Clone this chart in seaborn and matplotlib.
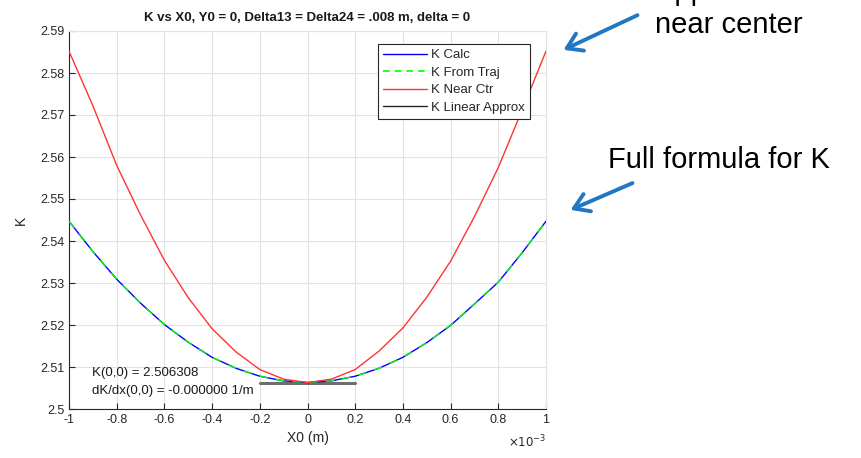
import numpy as np
import pandas as pd
import matplotlib
matplotlib.use("Agg")
import matplotlib.pyplot as plt
import seaborn as sns
from matplotlib.lines import Line2D
from matplotlib.ticker import FuncFormatter, MultipleLocator

# ---- data (x in units of 1e-3 m) ----
x0 = [-1.0, -0.9, -0.8, -0.7, -0.6, -0.5, -0.4, -0.3, -0.2, -0.1, 0.0,
      0.1, 0.2, 0.3, 0.4, 0.5, 0.6, 0.7, 0.8, 0.9, 1.0]
k_calc = [2.5447, 2.5375, 2.5309, 2.5252, 2.5201, 2.5159, 2.5123, 2.5097, 2.5078, 2.5067, 2.5063,
          2.5067, 2.5078, 2.5097, 2.5123, 2.5158, 2.5199, 2.5250, 2.5302, 2.5372, 2.5447]
k_traj = [2.5447, 2.5375, 2.5309, 2.5252, 2.5201, 2.5159, 2.5123, 2.5097, 2.5078, 2.5067, 2.5063,
          2.5067, 2.5078, 2.5097, 2.5123, 2.5158, 2.5199, 2.5250, 2.5302, 2.5372, 2.5447]
k_near = [2.5852, 2.5722, 2.5580, 2.5462, 2.5354, 2.5265, 2.5191, 2.5136, 2.5094, 2.5071, 2.5063,
          2.5071, 2.5094, 2.5138, 2.5193, 2.5266, 2.5352, 2.5458, 2.5575, 2.5712, 2.5852]
lin_x = [-0.2, 0.2]
lin_k = [2.506308, 2.506308]

title = "K vs X0, Y0 = 0, Delta13 = Delta24 = .008 m, delta = 0"
legend_labels = ["K Calc", "K From Traj", "K Near Ctr", "K Linear Approx"]

sns.set_theme(style="white")
plt.rcParams['font.family'] = ['Liberation Sans', 'DejaVu Sans']

fig = plt.figure(figsize=(8.62, 4.58), dpi=100)
ax = fig.add_axes([69/862, 1-409/458, (546-69)/862, (409-31)/458])

df_calc = pd.DataFrame({"x": x0, "k": k_calc})
df_traj = pd.DataFrame({"x": x0, "k": k_traj})
df_near = pd.DataFrame({"x": x0, "k": k_near})
df_lin = pd.DataFrame({"x": lin_x, "k": lin_k})

sns.lineplot(data=df_lin, x="x", y="k", ax=ax, color="#6e6e6e", lw=2.2, zorder=2)
sns.lineplot(data=df_calc, x="x", y="k", ax=ax, color="#0000ff", lw=1.0, zorder=3)
sns.lineplot(data=df_traj, x="x", y="k", ax=ax, color="#00ff00", lw=1.0, zorder=4,
             linestyle=(0, (6, 6)))
sns.lineplot(data=df_near, x="x", y="k", ax=ax, color="#ff3333", lw=1.0, zorder=5)

ax.set_xlim(-1, 1)
ax.set_ylim(2.5, 2.59)
ax.xaxis.set_major_locator(MultipleLocator(0.2))
ax.yaxis.set_major_locator(MultipleLocator(0.01))
ax.xaxis.set_major_formatter(FuncFormatter(lambda v, p: "%g" % round(v, 6)))
ax.yaxis.set_major_formatter(FuncFormatter(lambda v, p: "%g" % round(v, 6)))
ax.tick_params(direction="in", length=4, labelsize=9, colors="#262626",
               width=0.8, top=False, right=False, bottom=True, left=True)
ax.grid(True, color="#e3e3e3", lw=0.8)
for s in ["left", "bottom"]:
    ax.spines[s].set_color("#262626")
    ax.spines[s].set_linewidth(0.8)
for s in ["top", "right"]:
    ax.spines[s].set_color("#e3e3e3")
    ax.spines[s].set_linewidth(0.8)

ax.set_xlabel("X0 (m)", fontsize=10, color="#262626", labelpad=4)
ax.set_ylabel("K", fontsize=10, color="#262626", labelpad=9)
ax.set_title(title, fontsize=9.5, fontweight="bold", color="#1a1a1a", pad=7)
ax.text(1.0, -0.065, r"$\times10^{-3}$", transform=ax.transAxes, ha="right",
        va="top", fontsize=8.5, color="#262626")

ax.text(-0.905, 2.5086, "K(0,0) = 2.506308", fontsize=9.5, color="#1a1a1a", va="center")
ax.text(-0.905, 2.5044, "dK/dx(0,0) = -0.000000 1/m", fontsize=9.5, color="#1a1a1a", va="center")

handles = [Line2D([], [], color="#0000ff", lw=1.0),
           Line2D([], [], color="#00ff00", lw=1.2, linestyle=(0, (4, 3))),
           Line2D([], [], color="#ff3333", lw=1.0),
           Line2D([], [], color="#262626", lw=1.0)]
leg = ax.legend(handles, legend_labels, loc="upper right", bbox_to_anchor=(0.9665, 0.966),
                fontsize=9.5, frameon=True, fancybox=False, framealpha=1,
                edgecolor="#262626", handlelength=3.3, borderpad=0.4,
                labelspacing=0.4, handletextpad=0.3, borderaxespad=0)
leg.get_frame().set_linewidth(0.8)

# slide annotations
arrow_color = "#2177c1"
fig.text(655/862, 1-0/458, "Approx formula", fontsize=21, color="black", va="baseline")
fig.text(655/862, 1-33/458, "near center", fontsize=21, color="black", va="baseline")
fig.text(608/862, 1-168/458, "Full formula for K", fontsize=21, color="black", va="baseline")
fig.add_artist(matplotlib.patches.FancyArrowPatch(
    (640/862, 1-14/458), (561/862, 1-51/458), transform=fig.transFigure,
    arrowstyle="->,head_length=7,head_width=4.5", color=arrow_color, lw=2.8,
    mutation_scale=1.5, capstyle="round", joinstyle="round"))
fig.add_artist(matplotlib.patches.FancyArrowPatch(
    (635/862, 1-182/458), (568/862, 1-211/458), transform=fig.transFigure,
    arrowstyle="->,head_length=7,head_width=4.5", color=arrow_color, lw=2.8,
    mutation_scale=1.5, capstyle="round", joinstyle="round"))

fig.savefig("out.png", dpi=100)
